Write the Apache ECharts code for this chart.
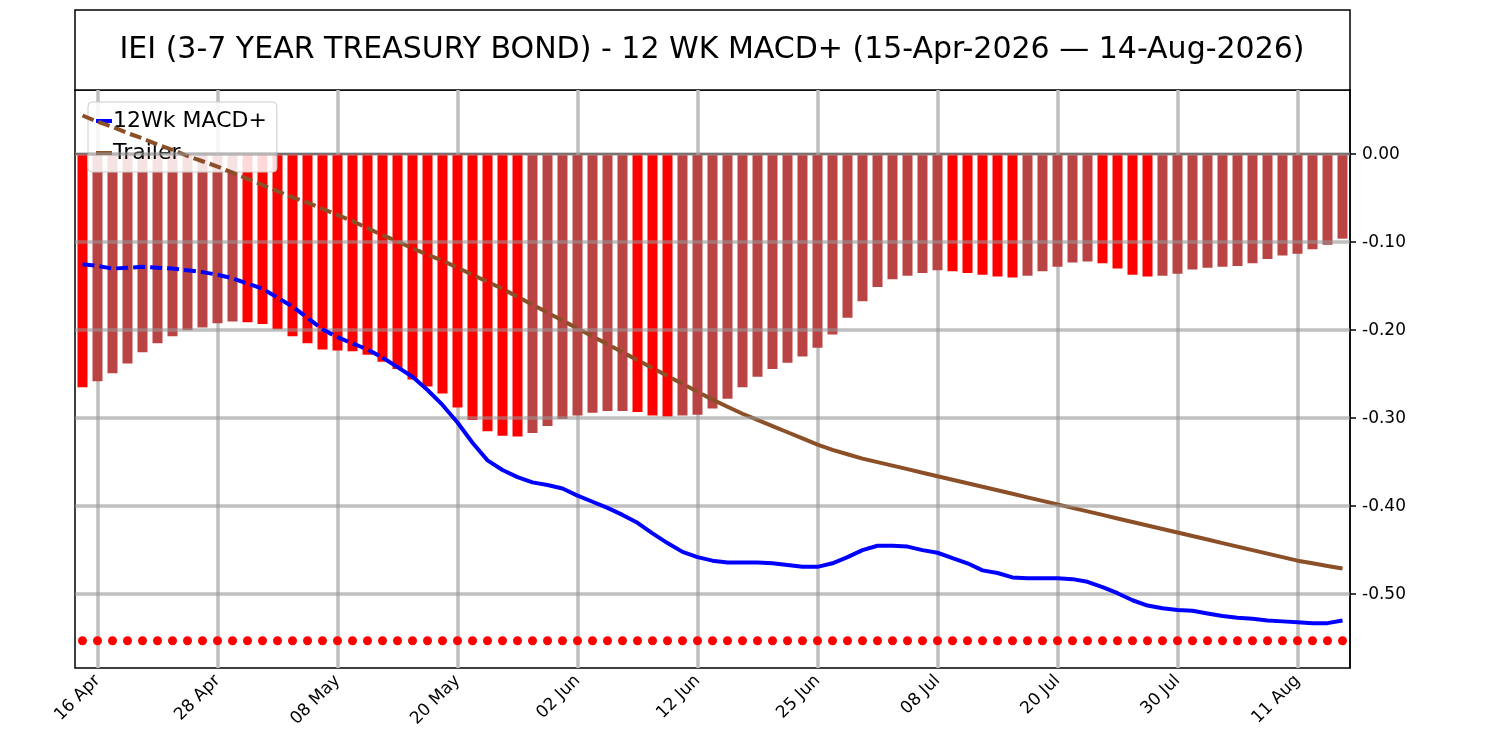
<!DOCTYPE html>
<html>
<head>
<meta charset="utf-8">
<script src="https://cdn.jsdelivr.net/npm/echarts@6/dist/echarts.min.js"></script>
<style>html,body{margin:0;padding:0;background:#fff}#chart{width:1500px;height:750px}</style>
</head>
<body>
<div id="chart"></div>
<script>
// trading days 15-Apr-2026 .. 14-Aug-2026
const holidays = ['2026-05-25', '2026-06-19', '2026-07-03'];
const months = ['Jan','Feb','Mar','Apr','May','Jun','Jul','Aug','Sep','Oct','Nov','Dec'];
const dates = [];
for (let d = new Date(Date.UTC(2026, 3, 15)); d <= new Date(Date.UTC(2026, 7, 14)); d.setUTCDate(d.getUTCDate() + 1)) {
    const wd = d.getUTCDay();
    const iso = d.toISOString().slice(0, 10);
    if (wd === 0 || wd === 6 || holidays.includes(iso)) continue;
    dates.push(String(d.getUTCDate()).padStart(2, '0') + ' ' + months[d.getUTCMonth()]);
}

const histValues = [
    -0.265, -0.258, -0.249, -0.238, -0.225, -0.215, -0.207, -0.200, -0.197, -0.192,
    -0.190, -0.191, -0.193, -0.199, -0.207, -0.215, -0.222, -0.223, -0.224, -0.228,
    -0.236, -0.244, -0.256, -0.264, -0.272, -0.288, -0.302, -0.315, -0.320, -0.321,
    -0.317, -0.309, -0.301, -0.297, -0.294, -0.292, -0.292, -0.293, -0.297, -0.298,
    -0.297, -0.296, -0.289, -0.278, -0.265, -0.253, -0.244, -0.237, -0.230, -0.220,
    -0.205, -0.186, -0.167, -0.151, -0.142, -0.138, -0.135, -0.132, -0.133, -0.135,
    -0.137, -0.139, -0.140, -0.138, -0.133, -0.128, -0.123, -0.122, -0.124, -0.130,
    -0.137, -0.139, -0.138, -0.136, -0.131, -0.129, -0.128, -0.127, -0.124, -0.119,
    -0.115, -0.113, -0.108, -0.103, -0.096
];
const macdValues = [
    -0.125, -0.127, -0.130, -0.129, -0.128, -0.129, -0.130, -0.132, -0.134, -0.137,
    -0.141, -0.147, -0.153, -0.163, -0.173, -0.186, -0.199, -0.208, -0.215, -0.222,
    -0.231, -0.242, -0.253, -0.268, -0.285, -0.305, -0.328, -0.348, -0.359, -0.367,
    -0.373, -0.376, -0.380, -0.388, -0.395, -0.402, -0.410, -0.419, -0.431, -0.442,
    -0.452, -0.458, -0.462, -0.464, -0.464, -0.464, -0.465, -0.467, -0.469, -0.469,
    -0.465, -0.458, -0.450, -0.445, -0.445, -0.446, -0.450, -0.453, -0.459, -0.465,
    -0.473, -0.476, -0.481, -0.482, -0.482, -0.482, -0.483, -0.486, -0.492, -0.499,
    -0.507, -0.513, -0.516, -0.518, -0.519, -0.522, -0.525, -0.527, -0.528, -0.530,
    -0.531, -0.532, -0.533, -0.533, -0.530
];
const trailerValues = [
    0.044, 0.037, 0.031, 0.024, 0.018, 0.011, 0.005, -0.002, -0.008, -0.014,
    -0.021, -0.028, -0.035, -0.042, -0.049, -0.055, -0.062, -0.069, -0.076, -0.084,
    -0.092, -0.099, -0.107, -0.114, -0.121, -0.129, -0.137, -0.145, -0.153, -0.162,
    -0.171, -0.180, -0.189, -0.198, -0.207, -0.216, -0.225, -0.234, -0.243, -0.252,
    -0.261, -0.270, -0.279, -0.287, -0.295, -0.302, -0.309, -0.316, -0.323, -0.330,
    -0.336, -0.341, -0.346, -0.350, -0.354, -0.358, -0.362, -0.366, -0.370, -0.374,
    -0.378, -0.382, -0.386, -0.390, -0.394, -0.398, -0.402, -0.406, -0.410, -0.414,
    -0.418, -0.422, -0.426, -0.430, -0.434, -0.438, -0.442, -0.446, -0.450, -0.454,
    -0.458, -0.462, -0.465, -0.468, -0.471
];
const dotLevel = -0.553;
const yTicks = [0, -0.1, -0.2, -0.3, -0.4, -0.5];
const macdDashEnd = 20;    // macd drawn dashed up to this index
const trailerDashEnd = 42; // trailer drawn dashed up to this index

const showTick = i => (i - 1) % 8 === 0;
const barData = histValues.map((v, i) => ({
    value: v,
    itemStyle: {color: (i === 0 || v < histValues[i - 1]) ? '#ff0000' : '#ba4444'}
}));
const part = (arr, from, to) => arr.map((v, i) => (i >= from && i <= to) ? v : null);

const gridLine = {color: '#bfbfbf', width: 3.5, type: 'solid'};
const chart = echarts.init(document.getElementById('chart'));
chart.setOption({
    animation: false,
    textStyle: {fontFamily: 'DejaVu Sans'},
    graphic: [
        {type: 'rect', shape: {x: 75, y: 10, width: 1275, height: 80},
         style: {fill: '#fff', stroke: '#000', lineWidth: 1.5}},
        {type: 'text', x: 712, y: 50,
         style: {text: 'IEI (3-7 YEAR TREASURY BOND) - 12 WK MACD+ (15-Apr-2026 — 14-Aug-2026)',
                 font: '30px DejaVu Sans', fill: '#000', align: 'center', verticalAlign: 'middle'}}
    ],
    legend: {
        left: 88, top: 102, orient: 'vertical', itemGap: 10,
        padding: [8, 10, 8, 8],
        backgroundColor: 'rgba(255,255,255,0.85)', borderColor: '#ccc', borderWidth: 1, borderRadius: 4,
        itemWidth: 16, itemHeight: 4, icon: 'rect',
        textStyle: {fontSize: 22, color: '#000', padding: [0, 0, 0, -4]},
        data: ['12Wk MACD+', 'Trailer']
    },
    grid: {left: 75, right: 150, top: 90, bottom: 82, show: true, borderColor: '#000', borderWidth: 1.5},
    xAxis: {
        type: 'category', data: dates, boundaryGap: true,
        axisLine: {lineStyle: {color: '#000', width: 1.5}},
        axisTick: {alignWithLabel: true, interval: showTick, length: 6, lineStyle: {color: '#000', width: 1.5}},
        axisLabel: {interval: showTick, rotate: 45, fontSize: 17, color: '#000', margin: 10},
        splitLine: {show: false}
    },
    yAxis: {
        type: 'value', position: 'right', min: -0.584, max: 0.073,
        axisLine: {show: true, lineStyle: {color: '#000', width: 1.5}},
        axisTick: {show: true, customValues: yTicks, length: 6, lineStyle: {color: '#000', width: 1.5}},
        axisLabel: {customValues: yTicks, fontSize: 17, color: '#000', margin: 12,
                    formatter: v => v.toFixed(2)},
        splitLine: {show: false}
    },
    series: [
        {
            type: 'bar', data: barData, barWidth: 10, z: 2,
            markLine: {
                silent: true, symbol: 'none', label: {show: false}, lineStyle: gridLine, z: 1,
                data: dates.filter((d, i) => showTick(i)).map(d => ({xAxis: d}))
            }
        },
        {
            type: 'line', data: part(histValues, -1, -1), z: 3, silent: true,
            markLine: {
                silent: true, symbol: 'none', label: {show: false},
                lineStyle: {color: 'rgba(150,150,150,0.6)', width: 3.5, type: 'solid'},
                data: yTicks.map(v => ({yAxis: v}))
            }
        },
        {name: 'Trailer', type: 'line', data: part(trailerValues, 0, trailerDashEnd), symbol: 'none', z: 4,
         lineStyle: {color: '#8b5028', width: 4, type: [12, 5]}, itemStyle: {color: '#8b5028'}},
        {name: 'Trailer', type: 'line', data: part(trailerValues, trailerDashEnd, 84), symbol: 'none', z: 4,
         lineStyle: {color: '#8b5028', width: 4}, itemStyle: {color: '#8b5028'}},
        {name: '12Wk MACD+', type: 'line', data: part(macdValues, 0, macdDashEnd), symbol: 'none', z: 5,
         lineStyle: {color: '#0000ff', width: 4, type: [12, 5]}, itemStyle: {color: '#0000ff'}},
        {name: '12Wk MACD+', type: 'line', data: part(macdValues, macdDashEnd, 84), symbol: 'none', z: 5,
         lineStyle: {color: '#0000ff', width: 4}, itemStyle: {color: '#0000ff'}},
        {type: 'scatter', data: dates.map(() => dotLevel), symbolSize: 9, z: 5,
         itemStyle: {color: '#ff0000', opacity: 1}}
    ]
});
</script>
</body>
</html>
